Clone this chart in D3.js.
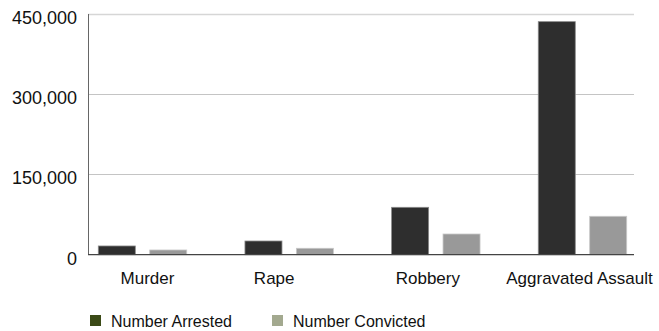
<!DOCTYPE html>
<html>
<head>
    <title>Arrests vs Convictions</title>
    <script src="https://cdn.jsdelivr.net/npm/d3@7"></script>
    <style>
        body {
            margin: 0;
            font-family: "Liberation Sans", Arial, sans-serif;
            background: #fff;
        }
    </style>
</head>
<body>
    <svg width="659" height="331" id="mainsvg" style="display: block;"></svg>
    <script>
        const categories = ['Murder', 'Rape', 'Robbery', 'Aggravated Assault'];
        const seriesNames = ['Number Arrested', 'Number Convicted'];
        const arrested = [16300, 25600, 88600, 435700];
        const convicted = [8800, 12000, 38700, 71800];
        const yTicks = [0, 150000, 300000, 450000];

        const barColors = ['#2e2e2e', '#999999'];
        const barStrokes = ['#8a8a8a', '#c8c8c8'];
        const legendColors = ['#3b4a17', '#a3a98f'];

        const rows = categories.map((c, i) => ({ cat: c, values: [arrested[i], convicted[i]] }));

        const svg = d3.select('#mainsvg');
        const margin = { left: 88, right: 25, top: 14, bottom: 76.3 };
        const width = +svg.attr('width');
        const height = +svg.attr('height');
        const innerWidth = width - margin.left - margin.right;
        const innerHeight = height - margin.top - margin.bottom;

        // label nudges, the source chart does not center them exactly under the groups
        const labelShift = [5, -15, -8, -3];

        const g = svg.append('g')
            .attr('transform', `translate(${margin.left}, ${margin.top})`);

        const yScale = d3.scaleLinear()
            .domain([0, 450000])
            .range([innerHeight, 0]);

        const x0 = d3.scaleBand()
            .domain(categories)
            .range([10.3, innerWidth - 7.3])
            .paddingInner(0.397)
            .paddingOuter(0);

        const x1 = d3.scaleBand()
            .domain(d3.range(seriesNames.length))
            .range([0, x0.bandwidth()])
            .paddingInner(0.28);

        // gridlines
        g.selectAll('.grid')
            .data(yTicks.filter(d => d > 0))
            .enter()
            .append('line')
                .attr('x1', 0)
                .attr('x2', innerWidth)
                .attr('y1', d => Math.round(yScale(d)) + 0.5)
                .attr('y2', d => Math.round(yScale(d)) + 0.5)
                .attr('stroke', d => d === 450000 ? '#d6d6d6' : '#c4c4c4')
                .attr('stroke-width', d => d === 450000 ? 1.5 : 1);

        // y tick labels
        const yAxis = d3.axisLeft(yScale)
            .tickValues(yTicks)
            .tickFormat(d3.format(','))
            .tickSize(0)
            .tickPadding(11);

        const yg = g.append('g').call(yAxis);
        yg.select('.domain').remove();
        yg.selectAll('text')
            .attr('font-family', '"Liberation Sans", Arial, sans-serif')
            .attr('font-size', 18)
            .attr('fill', '#111')
            .attr('dy', '0.52em');

        // bars
        const groups = g.selectAll('.cat')
            .data(rows)
            .enter()
            .append('g')
                .attr('transform', d => `translate(${x0(d.cat)}, 0)`);

        groups.selectAll('rect')
            .data(d => d.values.map((v, i) => ({ v, i })))
            .enter()
            .append('rect')
                .attr('x', d => x1(d.i))
                .attr('width', x1.bandwidth())
                .attr('y', d => yScale(d.v))
                .attr('height', d => innerHeight - yScale(d.v))
                .attr('fill', d => barColors[d.i])
                .attr('stroke', d => barStrokes[d.i])
                .attr('stroke-width', 0.8);

        // axes lines
        g.append('line')
            .attr('x1', 0.5).attr('x2', 0.5)
            .attr('y1', 0).attr('y2', innerHeight)
            .attr('stroke', '#666');

        g.append('line')
            .attr('x1', 0).attr('x2', innerWidth)
            .attr('y1', innerHeight).attr('y2', innerHeight)
            .attr('stroke', '#444')
            .attr('stroke-width', 1.3);

        // category labels
        const xAxis = d3.axisBottom(x0).tickSize(0).tickPadding(17);
        const xg = g.append('g')
            .attr('transform', `translate(0, ${innerHeight})`)
            .call(xAxis);
        xg.select('.domain').remove();
        xg.selectAll('text')
            .attr('font-family', '"Liberation Sans", Arial, sans-serif')
            .attr('font-size', 17)
            .attr('fill', '#111')
            .attr('dx', (d, i) => labelShift[i]);

        // legend
        const legendX = [90, 272];
        const legend = svg.selectAll('.legend')
            .data(seriesNames)
            .enter()
            .append('g')
                .attr('transform', (d, i) => `translate(${legendX[i]}, 315)`);

        legend.append('rect')
            .attr('width', 11)
            .attr('height', 11)
            .attr('fill', (d, i) => legendColors[i]);

        legend.append('text')
            .attr('x', 21)
            .attr('y', 6)
            .attr('dy', '0.35em')
            .attr('font-size', 16)
            .attr('fill', '#111')
            .text(d => d);
    </script>
</body>
</html>
